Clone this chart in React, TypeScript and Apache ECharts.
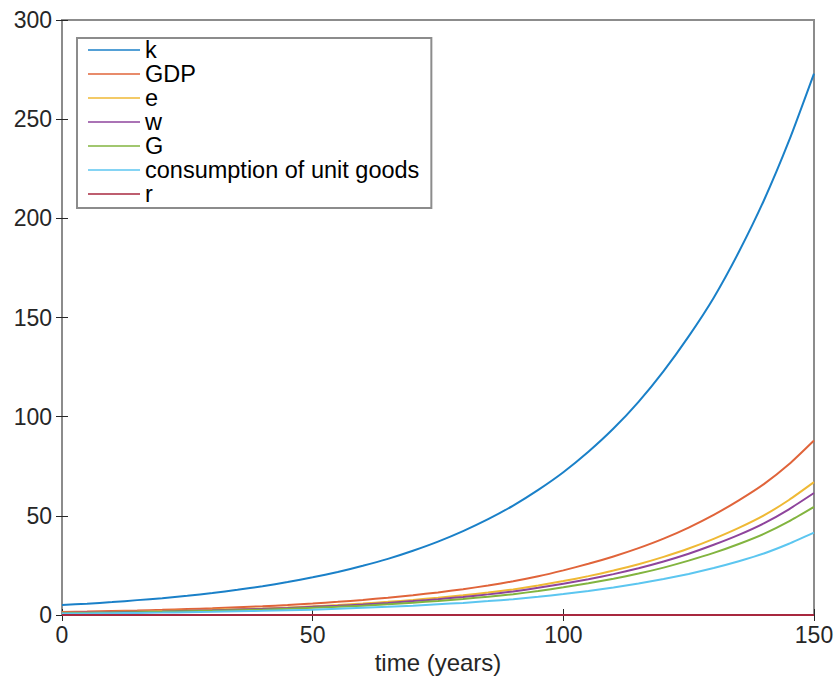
import React, { useEffect, useRef } from "react";
import * as echarts from "echarts";

const years = [0, 5, 10, 15, 20, 25, 30, 35, 40, 45, 50, 55, 60, 65, 70, 75, 80, 85, 90, 95, 100, 105, 110, 115, 120, 125, 130, 135, 140, 145, 150];
const kValues = [5, 5.7, 6.5, 7.5, 8.5, 9.7, 11.1, 12.7, 14.5, 16.6, 19, 21.7, 24.8, 28.3, 32.4, 37, 42.3, 48.3, 55.2, 63.1, 72, 82.3, 94, 107.5, 123, 140.5, 160, 183, 209, 239, 273];
const gdpValues = [1.5, 1.72, 2.0, 2.28, 2.6, 3.0, 3.4, 3.9, 4.4, 5.05, 5.8, 6.65, 7.6, 8.7, 10, 11.4, 13, 14.9, 17, 19.5, 22.5, 25.8, 29.5, 33.7, 38.5, 44.1, 50.5, 57.8, 66, 76, 88];
const eValues = [1.1, 1.28, 1.5, 1.73, 2.0, 2.28, 2.6, 2.93, 3.3, 3.8, 4.4, 5.05, 5.8, 6.65, 7.6, 8.7, 9.9, 11.3, 12.9, 14.9, 17.1, 19.6, 22.4, 25.6, 29.3, 33.5, 38.4, 43.9, 50.2, 58, 67];
const wValues = [1.0, 1.2, 1.4, 1.6, 1.8, 2.1, 2.4, 2.75, 3.1, 3.55, 4.1, 4.65, 5.3, 6.1, 7.0, 8.0, 9.1, 10.4, 11.9, 13.7, 15.8, 18.0, 20.6, 23.6, 27, 30.9, 35.4, 40.4, 46.2, 53.3, 61.5];
const gValues = [0.9, 1.05, 1.2, 1.4, 1.6, 1.85, 2.1, 2.4, 2.7, 3.1, 3.6, 4.1, 4.7, 5.4, 6.2, 7.1, 8.1, 9.2, 10.5, 12.1, 14, 16, 18.3, 20.9, 23.9, 27.4, 31.3, 35.8, 40.9, 47.2, 54.5];
const consumptionValues = [0.7, 0.8, 0.9, 1.05, 1.2, 1.4, 1.6, 1.85, 2.1, 2.4, 2.7, 3.1, 3.6, 4.1, 4.7, 5.4, 6.1, 7.0, 8, 9.2, 10.6, 12.1, 13.9, 15.9, 18.1, 20.7, 23.7, 27.1, 31, 35.9, 41.5];
const rValues = [0.05, 0.05, 0.05, 0.05, 0.05, 0.05, 0.05, 0.05, 0.05, 0.05, 0.05, 0.05, 0.05, 0.05, 0.05, 0.05, 0.05, 0.05, 0.05, 0.05, 0.05, 0.05, 0.05, 0.05, 0.05, 0.05, 0.05, 0.05, 0.05, 0.05, 0.05];

const seriesNames = ["k", "GDP", "e", "w", "G", "consumption of unit goods", "r"];
const seriesValues = [kValues, gdpValues, eValues, wValues, gValues, consumptionValues, rValues];
const colors = ["#1a80c8", "#e0643a", "#efb935", "#8e449c", "#82b43f", "#5cc6f0", "#a8283f"];

const xTicks = [0, 50, 100, 150];
const yTicks = [0, 50, 100, 150, 200, 250, 300];

export default function App() {
  const ref = useRef<HTMLDivElement>(null);
  useEffect(() => {
    if (!ref.current) return;
    const chart = echarts.init(ref.current, undefined, { renderer: "svg" });
    const font = "'Liberation Sans', Arial, Helvetica, sans-serif";
    const labelColor = "#262626";
    const tick = { show: true, inside: true, length: 6, lineStyle: { color: "#262626", width: 1 } };
    chart.setOption({
      animation: false,
      backgroundColor: "#ffffff",
      color: colors,
      grid: {
        left: 62,
        right: 23,
        top: 20,
        bottom: 61,
        outerBoundsMode: "none",
        containLabel: false,
        show: true,
        borderColor: "#8c8c8c",
        borderWidth: 2,
        backgroundColor: "transparent",
      },
      legend: {
        orient: "vertical",
        left: 77,
        top: 38,
        padding: [0, 12, 2, 11],
        itemWidth: 52,
        itemHeight: 14,
        itemGap: 0,
        borderColor: "#8c8c8c",
        borderWidth: 2,
        backgroundColor: "#ffffff",
        textStyle: { fontFamily: font, fontSize: 23.5, color: "#000" },
        data: seriesNames.map((n) => ({ name: n, icon: "path://M0,0L52,0L52,1.5L0,1.5Z" })),
      },
      xAxis: [
        {
          type: "value",
          min: xTicks[0],
          max: xTicks[xTicks.length - 1],
          interval: 50,
          name: "time (years)",
          nameLocation: "middle",
          nameGap: 35,
          nameTextStyle: { fontFamily: font, fontSize: 24, color: labelColor },
          axisLine: { show: false },
          axisTick: tick,
          splitLine: { show: false },
          axisLabel: { fontFamily: font, fontSize: 23, color: labelColor, margin: 8 },
        },
        {
          type: "value",
          position: "top",
          min: xTicks[0],
          max: xTicks[xTicks.length - 1],
          interval: 50,
          axisLine: { show: false },
          axisTick: tick,
          splitLine: { show: false },
          axisLabel: { show: false },
        },
      ],
      yAxis: [
        {
          type: "value",
          min: yTicks[0],
          max: yTicks[yTicks.length - 1],
          interval: 50,
          axisLine: { show: false },
          axisTick: tick,
          splitLine: { show: false },
          axisLabel: { fontFamily: font, fontSize: 23, color: labelColor, margin: 10 },
        },
        {
          type: "value",
          position: "right",
          min: yTicks[0],
          max: yTicks[yTicks.length - 1],
          interval: 50,
          axisLine: { show: false },
          axisTick: tick,
          splitLine: { show: false },
          axisLabel: { show: false },
        },
      ],
      series: seriesNames.map((name, i) => ({
        name,
        type: "line",
        data: years.map((t, j) => [t, seriesValues[i][j]]),
        showSymbol: false,
        symbol: "none",
        smooth: 0.2,
        lineStyle: { width: 2, color: colors[i] },
        itemStyle: { color: colors[i] },
        clip: true,
      })),
    });
    return () => chart.dispose();
  }, []);
  return <div ref={ref} style={{ position: "absolute", left: 0, top: 0, width: 837, height: 676 }} />;
}
